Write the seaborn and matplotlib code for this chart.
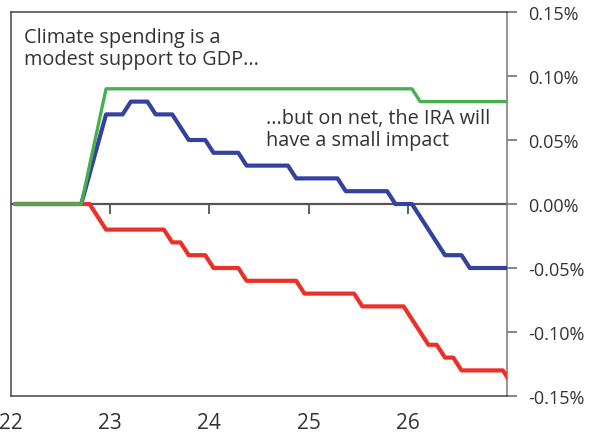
import matplotlib
matplotlib.use("Agg")
import matplotlib.pyplot as plt
import seaborn as sns
import pandas as pd

# Monthly path of each scenario, months counted from Jan 2022 (0 = Jan 2022).
# Only the turning points of each path are listed; the line joins them.
green_months = [0, 8, 11, 48, 49, 60]
green_values = [0.00, 0.00, 0.09, 0.09, 0.08, 0.08]

blue_months = [0, 8, 11, 13, 14, 16, 17, 19, 21, 23, 24, 27, 28, 33, 34,
               39, 40, 45, 46, 48, 52, 54, 55, 60]
blue_values = [0.00, 0.00, 0.07, 0.07, 0.08, 0.08, 0.07, 0.07, 0.05, 0.05,
               0.04, 0.04, 0.03, 0.03, 0.02, 0.02, 0.01, 0.01, 0.00, 0.00,
               -0.04, -0.04, -0.05, -0.05]

red_months = [0, 9, 11, 18, 19, 20, 21, 23, 24, 27, 28, 34, 35, 41, 42,
              47, 50, 51, 52, 53, 54, 59, 60]
red_values = [0.00, 0.00, -0.02, -0.02, -0.03, -0.03, -0.04, -0.04, -0.05,
              -0.05, -0.06, -0.06, -0.07, -0.07, -0.08, -0.08, -0.11, -0.11,
              -0.12, -0.12, -0.13, -0.13, -0.14]

year_ticks = [0, 12, 24, 36, 48]
year_labels = ["22", "23", "24", "25", "26"]
pct_ticks = [0.15, 0.10, 0.05, 0.00, -0.05, -0.10, -0.15]
pct_labels = ["0.15%", "0.10%", "0.05%", "0.00%", "-0.05%", "-0.10%", "-0.15%"]

GREEN = "#47b04e"
BLUE = "#33429e"
RED = "#ea3027"
INK = "#333333"

sns.set_theme(style="white")
plt.rcParams["font.family"] = ["Open Sans", "DejaVu Sans"]

def frame(months, values, name):
    # plot each month at its mid-point
    return pd.DataFrame({"month": [m + 0.5 for m in months],
                         "value": values, "series": name})

fig = plt.figure(figsize=(5.96, 4.35), dpi=100)
ax = fig.add_axes([11 / 596, 1 - 397 / 435, 496 / 596, 384 / 435])

ax.axhline(0, color="#555555", lw=1.6, zorder=1)

sns.lineplot(data=frame(blue_months, blue_values, "net"), x="month", y="value",
             color=BLUE, lw=3.0, ax=ax, zorder=3, estimator=None)
sns.lineplot(data=frame(red_months, red_values, "cost"), x="month", y="value",
             color=RED, lw=3.0, ax=ax, zorder=3, estimator=None)
sns.lineplot(data=frame(green_months, green_values, "climate"), x="month", y="value",
             color=GREEN, lw=2.4, ax=ax, zorder=4, estimator=None)

ax.set_xlim(0, 60)
ax.set_ylim(-0.15, 0.15)
ax.set_xlabel("")
ax.set_ylabel("")

# year labels along the bottom, tick marks hang from the zero line
ax.set_xticks(year_ticks)
ax.set_xticklabels(year_labels, fontsize=15, color=INK)
ax.tick_params(axis="x", length=0, pad=11.5)
zero_axis = ax.secondary_xaxis(0.5)
zero_axis.set_xticks(year_ticks[1:])
zero_axis.tick_params(axis="x", direction="out", length=7, width=1.1,
                      color=INK, labelbottom=False, labeltop=False,
                      bottom=True, top=False)
zero_axis.spines[:].set_visible(False)

ax.yaxis.tick_right()
ax.set_yticks(pct_ticks)
ax.set_yticklabels(pct_labels, fontsize=13, color=INK)
ax.tick_params(axis="y", direction="out", length=7, width=1.1,
               color="#666666", pad=8, right=True, left=False)

for side in ["left", "top", "bottom"]:
    ax.spines[side].set_color("#444444")
    ax.spines[side].set_linewidth(1.1)
ax.spines["right"].set_color("#777777")
ax.spines["right"].set_linewidth(1.1)

ax.text(0.026, 0.961, "Climate spending is a\nmodest support to GDP...",
        transform=ax.transAxes, ha="left", va="top", fontsize=14.3,
        color=INK, linespacing=1.13)
ax.text(0.514, 0.750, "...but on net, the IRA will\nhave a small impact",
        transform=ax.transAxes, ha="left", va="top", fontsize=14.3,
        color=INK, linespacing=1.13)

fig.savefig("out.png", dpi=100)
